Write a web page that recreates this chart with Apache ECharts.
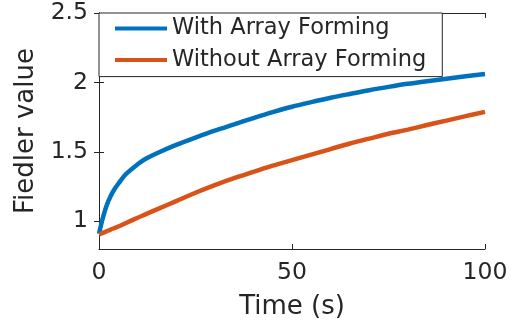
<!DOCTYPE html>
<html>
<head>
<meta charset="utf-8">
<script src="https://cdn.jsdelivr.net/npm/echarts@6/dist/echarts.min.js"></script>
<style>
    html, body { margin: 0; padding: 0; background: #fff; }
    #fiedler { width: 517px; height: 328px; }
</style>
</head>
<body>
<div id="fiedler"></div>
<script>
// 时间 (s)
var times = [0, 0.5, 1, 2, 3, 4, 5, 7, 10, 12, 15, 20, 25, 30, 35, 40, 45, 50, 55, 60, 65, 70, 75, 80, 85, 90, 95, 100];
var withForming = [0.91, 0.97, 1.025, 1.115, 1.18, 1.23, 1.27, 1.34, 1.41, 1.448, 1.49, 1.55, 1.603, 1.653, 1.698, 1.743, 1.786, 1.825, 1.858, 1.889, 1.917, 1.944, 1.968, 1.99, 2.009, 2.027, 2.044, 2.06];
var withoutForming = [0.905, 0.91, 0.916, 0.928, 0.94, 0.951, 0.962, 0.987, 1.025, 1.049, 1.085, 1.145, 1.205, 1.26, 1.31, 1.355, 1.40, 1.44, 1.48, 1.52, 1.56, 1.595, 1.63, 1.66, 1.693, 1.725, 1.757, 1.788];
var seriesNames = ['With Array Forming', 'Without Array Forming'];
var yTicks = [1, 1.5, 2, 2.5];

var FONT = 'DejaVu Sans';
var INK = '#262626';

function pairs(values) {
    return times.map(function (t, i) {
        return [t, values[i]];
    });
}

var chart = echarts.init(document.getElementById('fiedler'));

var yCommon = {
    type: 'value',
    min: 0.8,
    max: 2.5,
    splitLine: {show: false},
    axisLine: {show: true, lineStyle: {color: INK, width: 1}},
    axisTick: {show: true, inside: true, length: 5, lineStyle: {color: INK}, customValues: yTicks}
};
var xCommon = {
    type: 'value',
    min: 0,
    max: 100,
    interval: 50,
    splitLine: {show: false},
    axisLine: {show: true, onZero: false, lineStyle: {color: INK, width: 1}},
    axisTick: {show: true, inside: true, length: 5, lineStyle: {color: INK}}
};

var option = {
    animation: false,
    backgroundColor: '#fff',
    grid: {left: 99, right: 32, top: 13, bottom: 79, containLabel: false},
    legend: {
        orient: 'vertical',
        left: 99,
        top: 13,
        data: seriesNames,
        backgroundColor: '#fff',
        borderColor: INK,
        borderWidth: 1,
        borderRadius: 0,
        padding: [4, 16, 5, 16],
        itemGap: 8.6,
        itemWidth: 52,
        itemHeight: 4,
        icon: 'rect',
        textStyle: {fontFamily: FONT, fontSize: 22.5, color: INK, lineHeight: 22}
    },
    xAxis: [
        Object.assign({}, xCommon, {
            position: 'bottom',
            name: 'Time (s)',
            nameLocation: 'middle',
            nameGap: 45,
            nameTextStyle: {fontFamily: FONT, fontSize: 26, color: INK},
            axisLabel: {fontFamily: FONT, fontSize: 23.5, color: INK, margin: 12}
        }),
        Object.assign({}, xCommon, {position: 'top', axisLabel: {show: false}})
    ],
    yAxis: [
        Object.assign({}, yCommon, {
            position: 'left',
            name: 'Fiedler value',
            nameLocation: 'middle',
            nameGap: 58,
            nameTextStyle: {fontFamily: FONT, fontSize: 26, color: INK},
            axisLabel: {fontFamily: FONT, fontSize: 23.5, color: INK, margin: 11, customValues: yTicks}
        }),
        Object.assign({}, yCommon, {position: 'right', axisLabel: {show: false}})
    ],
    series: [
        {
            name: seriesNames[0],
            type: 'line',
            smooth: 0.3,
            showSymbol: false,
            color: '#0072BD',
            lineStyle: {width: 4.5, color: '#0072BD'},
            data: pairs(withForming)
        },
        {
            name: seriesNames[1],
            type: 'line',
            smooth: 0.3,
            showSymbol: false,
            color: '#D95319',
            lineStyle: {width: 4.5, color: '#D95319'},
            data: pairs(withoutForming)
        }
    ]
};

chart.setOption(option, true);
</script>
</body>
</html>
